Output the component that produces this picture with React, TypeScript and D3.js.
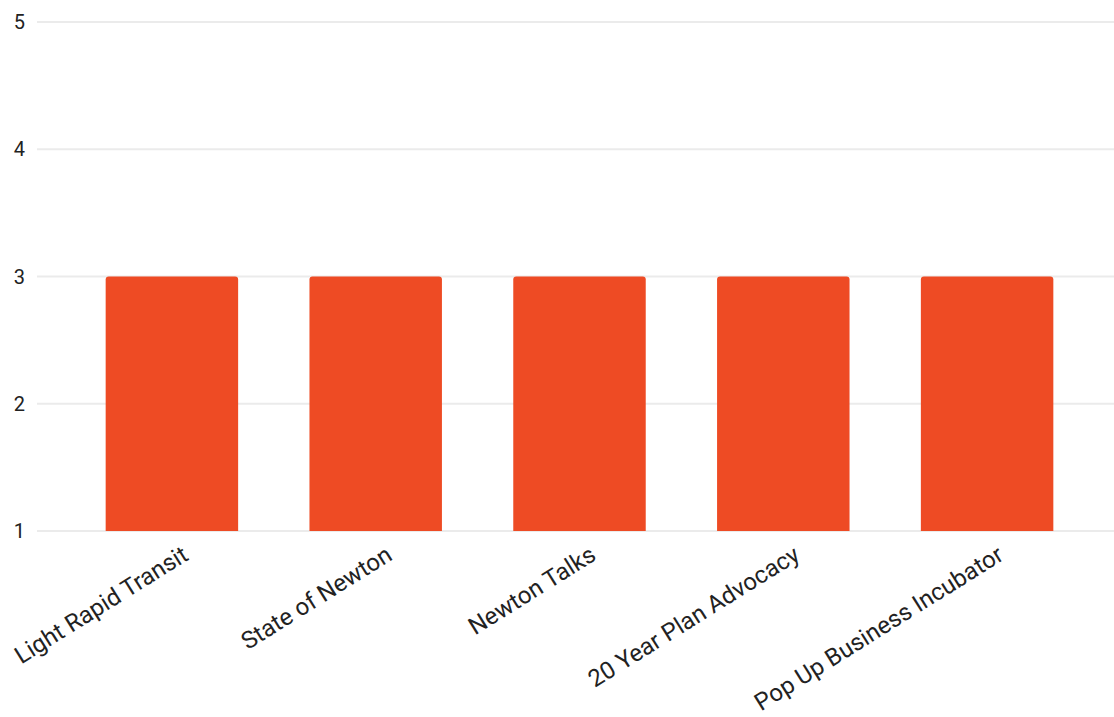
import React from "react";
import * as d3 from "d3";

const categories = ["Light Rapid Transit", "State of Newton", "Newton Talks", "20 Year Plan Advocacy", "Pop Up Business Incubator"];
const values = [3, 3, 3, 3, 3];
const yTicks = [1, 2, 3, 4, 5];

const W = 1114, H = 717;

export default function App() {
  const x = d3.scaleBand<string>().domain(categories).range([70, 1089]).paddingInner(0.35).paddingOuter(0.175);
  const y = d3.scaleLinear().domain([1, 5]).range([531, 22]);
  const font = "Roboto, 'Noto Sans', sans-serif";
  const r = 3;
  return (
    <svg width={W} height={H} style={{ position: "absolute", left: 0, top: 0, background: "#fff" }}>
      {yTicks.map((t) => (
        <g key={t}>
          <line x1={37} x2={W} y1={y(t)} y2={y(t)} stroke="#ebebeb" strokeWidth={2} />
          <text x={25} y={y(t)} dy="0.35em" textAnchor="end" fontFamily={font} fontSize={20} fill="#222">{t}</text>
        </g>
      ))}
      {categories.map((c, i) => {
        const x0 = x(c)!;
        const w = x.bandwidth();
        const yt = y(values[i]);
        const yb = y(1);
        const d = `M${x0},${yb} V${yt + r} Q${x0},${yt} ${x0 + r},${yt} H${x0 + w - r} Q${x0 + w},${yt} ${x0 + w},${yt + r} V${yb} Z`;
        return <path key={c} d={d} fill="#EE4B24" />;
      })}
      {categories.map((c) => {
        const cx = x(c)! + x.bandwidth() / 2;
        return (
          <text key={c} transform={`translate(${cx + 18},${559}) rotate(-32)`} textAnchor="end"
            fontFamily={font} fontSize={24} fill="#222">{c}</text>
        );
      })}
    </svg>
  );
}
